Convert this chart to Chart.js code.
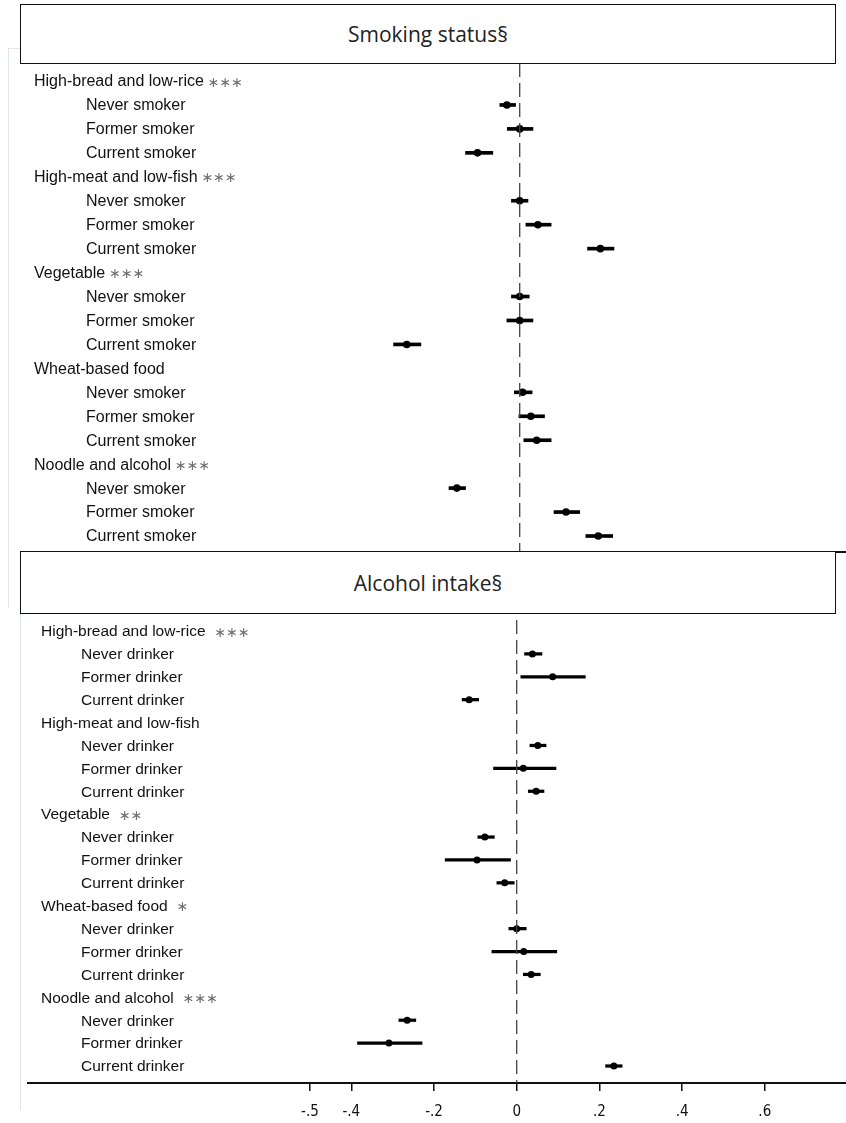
<!DOCTYPE html>
<html>
<head>
<meta charset="utf-8">
<script src="https://cdn.jsdelivr.net/npm/chart.js@4.4.1/dist/chart.umd.min.js"></script>
<style>
  html, body { margin: 0; padding: 0; background: #fff; width: 846px; height: 1123px; overflow: hidden; }
  .box { position: absolute; border: 1.5px solid #111; box-sizing: border-box; background: #fff;
         font-family: "Open Sans", "Noto Sans", sans-serif; font-size: 21px; color: #222;
         display: flex; align-items: center; justify-content: center; }
  .faint { position: absolute; background: #dfe6ec; }
  .wrap { position: absolute; left: 0; width: 846px; }
</style>
</head>
<body>
<div class="faint" style="left:8px; top:48px; width:1px; height:560px"></div>
<div class="faint" style="left:8px; top:48px; width:12px; height:1px"></div>
<div class="faint" style="left:20px; top:613px; width:1px; height:497px"></div>

<div class="wrap" style="top:63px; height:488px"><canvas id="smoke"></canvas></div>
<div class="wrap" style="top:613px; height:520px"><canvas id="alcohol"></canvas></div>

<div class="box" style="left:20px; top:4px; width:816px; height:60px">Smoking status§</div>
<div class="box" style="left:20px; top:551px; width:816px; height:63px">Alcohol intake§</div>
<div style="position:absolute; left:836px; top:551px; width:10px; height:1.5px; background:#111"></div>

<script>
// groups and categories
const groups = ['High-bread and low-rice', 'High-meat and low-fish', 'Vegetable', 'Wheat-based food', 'Noodle and alcohol'];
const smokeStars = ['***', '***', '***', '', '***'];
const alcStars = ['***', '', '**', '*', '***'];
const smokeCats = ['Never smoker', 'Former smoker', 'Current smoker'];
const alcCats = ['Never drinker', 'Former drinker', 'Current drinker'];

// smoking status: estimate and 95% CI (3 per group)
const smokeEst = [-0.031, 0.000, -0.102,  0.000, 0.044, 0.195,  0.000, 0.000, -0.273,  0.007, 0.027, 0.041,  -0.152, 0.112, 0.190];
const smokeLo  = [-0.048, -0.030, -0.131, -0.020, 0.015, 0.164, -0.020, -0.031, -0.305, -0.013, -0.002, 0.010, -0.171, 0.083, 0.160];
const smokeHi  = [-0.010, 0.032, -0.065,  0.020, 0.076, 0.228,  0.023, 0.032, -0.239,  0.030, 0.060, 0.076,  -0.131, 0.145, 0.225];

// alcohol intake
const alcEst = [0.038, 0.087, -0.115,  0.051, 0.016, 0.047,  -0.077, -0.096, -0.029,  0.000, 0.017, 0.035,  -0.265, -0.309, 0.235];
const alcLo  = [0.019, 0.010, -0.132,  0.032, -0.056, 0.028, -0.094, -0.173, -0.048, -0.019, -0.060, 0.016, -0.285, -0.385, 0.215];
const alcHi  = [0.061, 0.166, -0.092,  0.071, 0.095, 0.066,  -0.054, -0.015, -0.006,  0.023, 0.097, 0.057,  -0.244, -0.229, 0.255];

const xTicks = [-0.5, -0.4, -0.2, 0, 0.2, 0.4, 0.6];

function fmtTick(v) {
    if (v === 0) return '0';
    return (v < 0 ? '-' : '') + String(Math.abs(v)).replace(/^0/, '');
}

// row index: header at 4*g, categories below it
function rowData(est, lo, hi) {
    const ci = [], pts = [];
    est.forEach((v, k) => {
        const row = Math.floor(k / 3) * 4 + (k % 3) + 1;
        ci.push({ y: row, x: [lo[k], hi[k]] });
        pts.push({ y: row, x: v });
    });
    return { ci, pts };
}

const rowLabels = {
    id: 'rowLabels',
    afterDraw(chart, args, opts) {
        const ctx = chart.ctx, y = chart.scales.y;
        ctx.save();
        ctx.textBaseline = 'middle';
        groups.forEach((g, gi) => {
            const row = gi * 4;
            const py = y.getPixelForValue(row) + 1;
            ctx.font = opts.font;
            ctx.fillStyle = '#111';
            ctx.fillText(g, opts.headX, py);
            if (opts.stars[gi]) {
                const w = ctx.measureText(g).width;
                ctx.font = opts.starFont;
                ctx.fillStyle = '#6e6e6e';
                ctx.fillText(opts.stars[gi].replace(/\*/g, '\u2217'), opts.headX + w + opts.starGap, py + 1);
            }
            ctx.font = opts.font;
            ctx.fillStyle = '#111';
            opts.cats.forEach((c, ci) => ctx.fillText(c, opts.catX, y.getPixelForValue(row + ci + 1) + 1));
        });
        ctx.restore();
    }
};

function makeChart(id, d, o) {
    const rows = rowData(d.est, d.lo, d.hi);
    const xScale = {
        type: 'linear', min: o.xMin, max: o.xMax, display: o.showAxis, position: 'bottom', offset: false,
        afterBuildTicks: s => { s.ticks = xTicks.map(v => ({ value: v })); },
        ticks: {
            callback: v => fmtTick(v), color: '#111', padding: 12, autoSkip: false, maxRotation: 0,
            font: { family: '"Liberation Sans Narrow", "DejaVu Sans Condensed", sans-serif', size: 15 }
        },
        grid: { drawOnChartArea: false, drawTicks: true, tickLength: 8, color: '#111', lineWidth: 1.5, offset: false },
        border: { display: true, color: '#111', width: 2 }
    };

    return new Chart(document.getElementById(id), {
        type: 'bar',
        data: {
            datasets: [
                {
                    type: 'line', data: [{ x: 0, y: o.yMin }, { x: 0, y: o.yMax }],
                    borderColor: '#444', borderWidth: 1.3, borderDash: [14, 6], pointRadius: 0, fill: false
                },
                { type: 'bar', data: rows.ci, backgroundColor: '#000', barThickness: o.ciWidth, borderWidth: 0 },
                { type: 'scatter', data: rows.pts, backgroundColor: '#000', borderColor: '#000', pointRadius: o.dot, borderWidth: 0 }
            ]
        },
        options: {
            indexAxis: 'y',
            responsive: true,
            maintainAspectRatio: false,
            animation: false,
            layout: { autoPadding: false, padding: { left: 28, right: 0, top: o.padTop, bottom: 0 } },
            plugins: {
                legend: { display: false },
                tooltip: { enabled: false },
                rowLabels: o.labels
            },
            scales: {
                x: xScale,
                y: { type: 'linear', reverse: true, min: o.yMin, max: o.yMax, display: false, offset: false, grid: { offset: false } }
            }
        },
        plugins: [rowLabels]
    });
}

makeChart('smoke', { est: smokeEst, lo: smokeLo, hi: smokeHi }, {
    xMin: -1.1891, xMax: 0.7891, yMin: -0.7516, yMax: 19.626, padTop: 0, showAxis: false,
    ciWidth: 3, dot: 3.8,
    labels: {
        font: '16px "Liberation Sans", Arial, sans-serif', starFont: '14px "DejaVu Sans", sans-serif',
        headX: 34, catX: 86, starGap: 4, stars: smokeStars, cats: smokeCats
    }
});

makeChart('alcohol', { est: alcEst, lo: alcLo, hi: alcHi }, {
    xMin: -1.1819, xMax: 0.7964, yMin: -0.480, yMax: 19.742, padTop: 7, showAxis: true,
    ciWidth: 2.6, dot: 3.5,
    labels: {
        font: '15.5px "Liberation Sans", Arial, sans-serif', starFont: '14px "DejaVu Sans", sans-serif',
        headX: 41, catX: 81, starGap: 9, stars: alcStars, cats: alcCats
    }
});
</script>
</body>
</html>
